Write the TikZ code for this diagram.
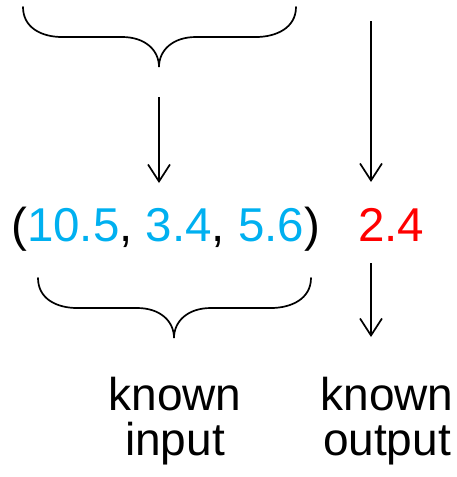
\documentclass[tikz,border=0pt]{standalone}
\usepackage{fontspec}
\setmainfont{Liberation Sans}
\usetikzlibrary{arrows.meta}
\definecolor{lblue}{RGB}{0,176,240}
\definecolor{dred}{RGB}{255,0,0}
\begin{document}
\begin{tikzpicture}[x=1pt,y=-1pt,
  lbl/.style={inner sep=0pt,font=\fontsize{46}{45}\selectfont,align=center},
  big/.style={inner sep=0pt,font=\fontsize{47.5}{45}\selectfont},
  brace/.style={line width=1.7pt,line cap=round},
  arr/.style={line width=1.7pt,-{Straight Barb[length=17pt,width=22pt,line width=1.7pt]}}]
\useasboundingbox (0,0) rectangle (456,477);
% top brace
\draw[brace] (23,7) .. controls (23,28) and (42,37) .. (62,37) -- (122,37)
  .. controls (145,37) and (159,50) .. (159,67)
  coordinate (tb)
  .. controls (159,50) and (173,37) .. (196,37) -- (256,37)
  .. controls (276,37) and (296,28) .. (296,7);
% text
\node[big,anchor=base west] (tuple) at (11,241) {(\textcolor{lblue}{10.5}, \textcolor{lblue}{3.4}, \textcolor{lblue}{5.6})};
\node[big,anchor=base west,text=dred] (out) at (358,241) {2.4};
% bottom brace
\draw[brace] (38,278) .. controls (38,299) and (57,308) .. (77,308) -- (137,308)
  .. controls (160,308) and (174,321) .. (174,338)
  coordinate (bb)
  .. controls (174,321) and (188,308) .. (211,308) -- (271,308)
  .. controls (291,308) and (311,299) .. (311,278);
% arrows
\coordinate (a1s) at (159,97);
\coordinate (a2s) at (371,21);
\draw[arr] (a1s) -- (159,183) coordinate (a1e);
\draw[arr] (a2s) -- (371,182) coordinate (a2e);
\draw[arr] (371,263) coordinate (a3s) -- (371,337) coordinate (a3e);
% labels
\node[lbl,anchor=base] (kin) at (175,410) {known};
\node[lbl,anchor=base] (inp) at (175,455) {input};
\node[lbl,anchor=base] (kout) at (387,410) {known};
\node[lbl,anchor=base] (outp) at (387,455) {output};
\end{tikzpicture}
\end{document}
